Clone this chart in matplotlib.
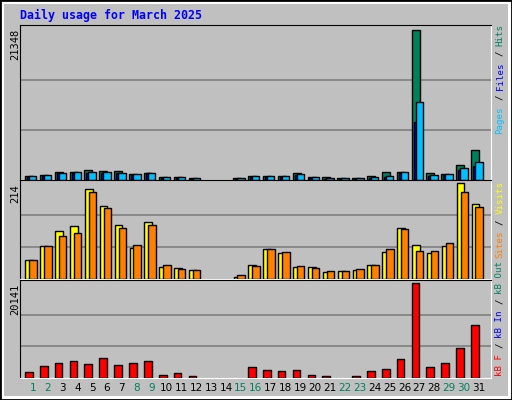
import matplotlib.pyplot as plt
from matplotlib.patches import Rectangle

W, H = 512, 400

days = list(range(1, 32))
weekend = [1, 2, 8, 9, 15, 16, 22, 23, 29, 30]

hits = [530, 680, 1110, 1110, 1400, 1260, 1260, 820, 970, 390, 390, 240, 0, 0,
        240, 530, 530, 530, 970, 390, 390, 240, 240, 530, 1110, 1110, 21348,
        970, 820, 2130, 4300]
files = [480, 630, 1000, 1060, 1060, 1060, 930, 780, 930, 340, 340, 200, 0, 0,
         200, 480, 480, 480, 780, 340, 200, 200, 200, 340, 480, 1060, 8210,
         630, 780, 1400, 1980]
pages = [530, 680, 970, 1110, 1110, 1110, 970, 820, 970, 390, 390, 240, 0, 0,
         240, 530, 530, 530, 820, 390, 240, 240, 240, 390, 530, 1110, 11110,
         680, 820, 1690, 2560]
visits = [43, 73, 107, 119, 200, 163, 121, 70, 126, 26, 24, 19, 0, 0,
          5, 31, 66, 59, 26, 26, 15, 17, 19, 31, 61, 114, 75, 59, 73, 214, 168]
sites = [43, 73, 96, 103, 193, 158, 114, 75, 121, 31, 22, 19, 0, 0,
         8, 29, 66, 61, 29, 24, 17, 17, 22, 31, 66, 112, 63, 63, 80, 193, 161]
kb_f = [1180, 2500, 3160, 3600, 2940, 4260, 2720, 3160, 3600, 740, 960, 510, 0, 0,
        0, 2280, 1620, 1400, 1620, 740, 510, 0, 510, 1400, 1840, 4040, 20141,
        2280, 3160, 6250, 11320]
kb_in = [0] * 31

BG = '#C0C0C0'
GRID = '#808080'

fig = plt.figure(figsize=(W / 100, H / 100), dpi=100, facecolor='white')
fig.patches.append(Rectangle((0, 0), 1, 1, transform=fig.transFigure, zorder=-5,
                             facecolor='white', edgecolor='black', linewidth=2))
fig.patches.append(Rectangle((4 / W, 4 / H), 504 / W, 392 / H, transform=fig.transFigure,
                             zorder=-4, facecolor=BG, edgecolor='none'))


def panel(top, bottom):
    ax = fig.add_axes([20 / W, 1 - bottom / H, 471 / W, (bottom - top) / H])
    ax.set_zorder(2)
    ax.set_facecolor(BG)
    ax.set_xlim(0.146, 31.82)
    ax.set_xticks([])
    ax.set_yticks([])
    for s in ['left', 'top']:
        ax.spines[s].set_color('black')
    for s in ['right', 'bottom']:
        ax.spines[s].set_color('white')
    return ax


def bars(ax, off, vals, width, color):
    xs = [d + off for d, v in zip(days, vals) if v > 0]
    hs = [v for v in vals if v > 0]
    ax.bar(xs, hs, width=width, align='edge', color=color, edgecolor='black',
           linewidth=1, zorder=3)


def grid(ax, top):
    ax.set_ylim(0, top)
    for f in (1 / 3, 2 / 3):
        ax.axhline(top / 1.03 * f, color=GRID, linewidth=1.2, zorder=1)


mono = 'DejaVu Sans Mono'

ax1 = panel(25, 180)
grid(ax1, max(hits) * 1.03)
bars(ax1, -0.52, hits, 0.54, '#00805C')
bars(ax1, -0.39, files, 0.3, '#0000FF')
bars(ax1, -0.25, pages, 0.5, '#00C0FF')

ax2 = panel(180, 279)
grid(ax2, max(visits) * 1.03)
bars(ax2, -0.49, visits, 0.52, '#FFFF00')
bars(ax2, -0.23, sites, 0.5, '#FF8000')

ax3 = panel(280, 378)
grid(ax3, max(kb_f) * 1.03)
bars(ax3, -0.52, kb_f, 0.52, '#FF0000')
bars(ax3, 0.0, kb_in, 0.4, '#0000FF')

fig.text(20 / W, 1 - 15 / H, 'Daily usage for March 2025', color='#0000FF',
         family=mono, weight='bold', fontsize=8.4, va='center', ha='left')

for lab, y in [(str(max(hits)), 29), (str(max(visits)), 184), (str(max(kb_f)), 284)]:
    fig.text(15 / W, 1 - y / H, lab, rotation=90, family=mono, fontsize=7.5,
             ha='center', va='top')

CH = 5.5


def side(segs, y_bottom):
    y = y_bottom
    for s, c in segs:
        n = len(s)
        mid = y - n * CH / 2
        fig.text(500 / W, 1 - mid / H, s.strip(), rotation=90, family=mono,
                 fontsize=6.6, color=c, ha='center', va='center')
        y -= n * CH


side([('Pages', '#00C0FF'), (' / ', '#000000'), ('Files', '#0000FF'),
      (' / ', '#000000'), ('Hits', '#00805C')], 29 + 19 * CH)
side([('Sites', '#FF8000'), (' / ', '#000000'), ('Visits', '#FFFF00')], 181 + 14 * CH)
side([('kB F', '#FF0000'), (' / ', '#000000'), ('kB In', '#0000FF'),
      (' / ', '#000000'), ('kB Out', '#00805C')], 376)

for d in days:
    x = 32.7 + (d - 1) * 14.87
    fig.text(x / W, 1 - 388 / H, str(d), fontsize=7.5, ha='center', va='center',
             color='#00805C' if d in weekend else 'black')

fig.savefig('out.png', dpi=100, facecolor='white')
